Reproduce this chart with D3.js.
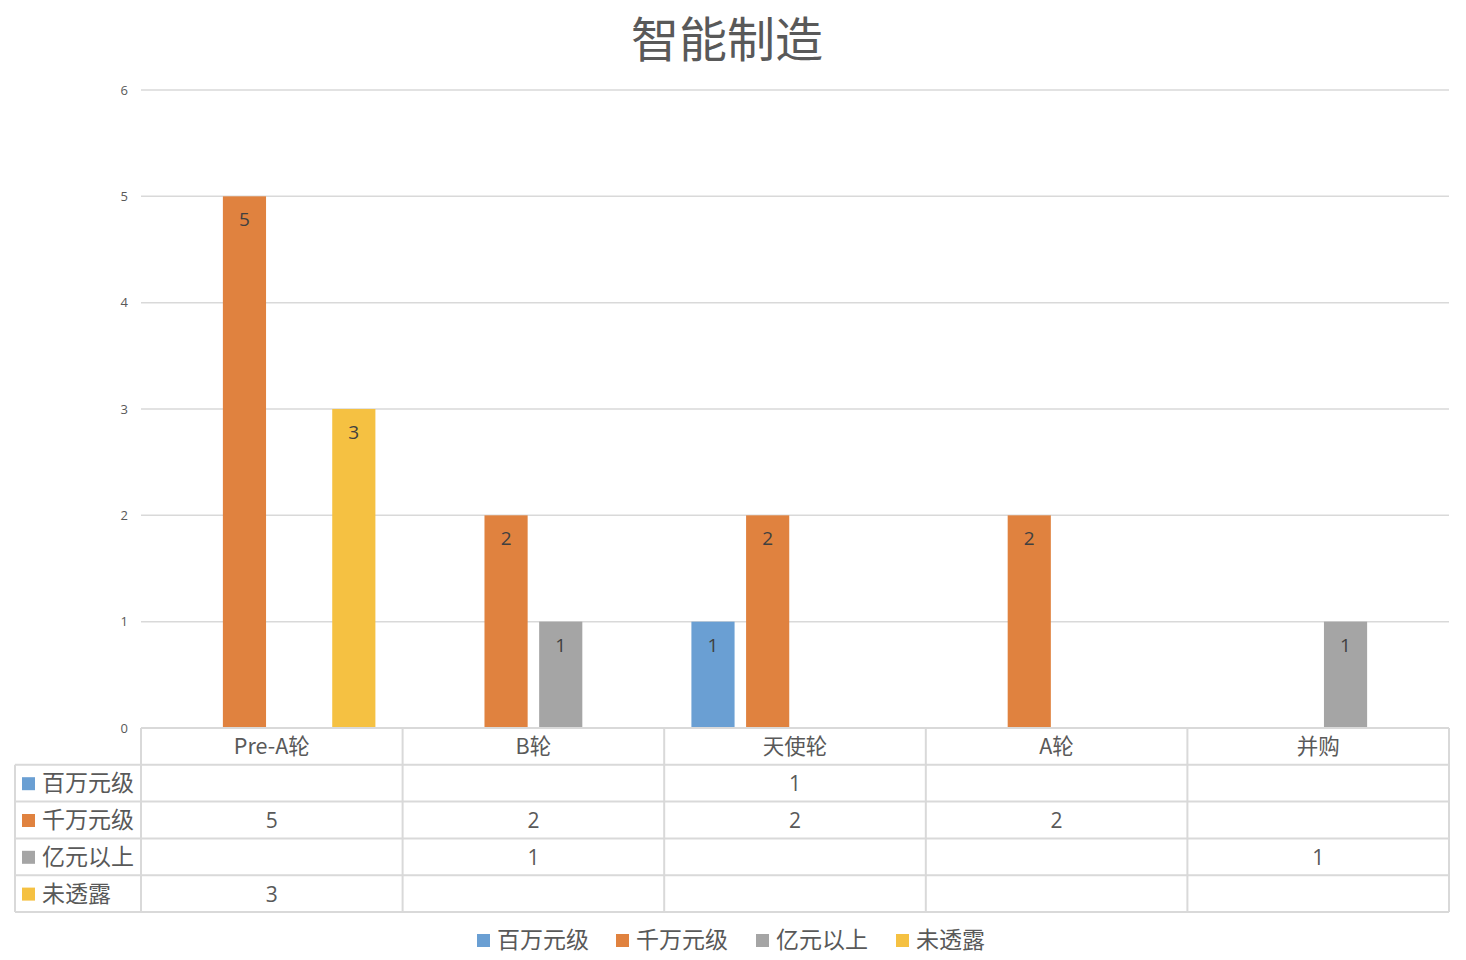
<!DOCTYPE html>
<html>
<head>
<meta charset="utf-8">
<script src="https://cdn.jsdelivr.net/npm/d3@7"></script>
<style>
  body { margin: 0; background: #fff; }
  svg text { font-family: "Noto Sans CJK SC", "Open Sans", sans-serif; fill: #595959; }
</style>
</head>
<body>
<div id="chart"></div>
<script>
// data
var categories = ["Pre-A轮", "B轮", "天使轮", "A轮", "并购"];
var seriesNames = ["百万元级", "千万元级", "亿元以上", "未透露"];
var seriesColors = ["#6A9FD3", "#E0823F", "#A5A5A5", "#F5C142"];
// null = no value in that cell
var baiwan  = [null, null, 1, null, null];
var qianwan = [5, 2, 2, 2, null];
var yiyuan  = [null, 1, null, null, 1];
var weitoulu = [3, null, null, null, null];
var yTicks = [0, 1, 2, 3, 4, 5, 6];

var seriesValues = [baiwan, qianwan, yiyuan, weitoulu];

var width = 1466, height = 960;
var plotLeft = 141, plotRight = 1449, plotTop = 90, plotBottom = 728;
var rowH = 36.8, labelColLeft = 15;

var svg = d3.select("#chart").append("svg")
  .attr("width", width)
  .attr("height", height);

// title
svg.append("text")
  .attr("x", 727).attr("y", 57)
  .attr("text-anchor", "middle")
  .style("font-size", "48px")
  .text("智能制造");

var x = d3.scaleBand().domain(categories).range([plotLeft, plotRight]);
var y = d3.scaleLinear().domain([0, 6]).range([plotBottom, plotTop]);

var barW = x.bandwidth() * 0.165;
var step = x.bandwidth() * 0.209;
var xs = d3.scaleLinear().domain([0, seriesNames.length - 1])
  .range([-1.5 * step, 1.5 * step]);

// gridlines
svg.append("g").selectAll("line.grid")
  .data(yTicks.filter(d => d > 0))
  .enter().append("line")
  .attr("x1", plotLeft).attr("x2", plotRight)
  .attr("y1", d => y(d)).attr("y2", d => y(d))
  .attr("stroke", "#d9d9d9").attr("stroke-width", 1.5);

// y axis labels
var yAxis = d3.axisLeft(y).tickValues(yTicks).tickFormat(d3.format("d"))
  .tickSize(0).tickPadding(13);
var ya = svg.append("g").attr("transform", "translate(" + plotLeft + ",0)").call(yAxis);
ya.select(".domain").remove();
ya.selectAll("text").style("font-size", "13px").style("fill", "#595959")
  .style("font-family", "'Open Sans', sans-serif");

// bars
var barData = [];
seriesValues.forEach((vals, si) => {
  vals.forEach((v, ci) => {
    if (v != null) barData.push({ s: si, c: categories[ci], v: v });
  });
});

var bars = svg.append("g").selectAll("g.bar").data(barData).enter().append("g");
bars.append("rect")
  .attr("x", d => x(d.c) + x.bandwidth() / 2 + xs(d.s) - barW / 2)
  .attr("width", barW)
  .attr("y", d => y(d.v))
  .attr("height", d => y(0) - y(d.v))
  .attr("fill", d => seriesColors[d.s]);
bars.append("text")
  .attr("x", d => x(d.c) + x.bandwidth() / 2 + xs(d.s))
  .attr("y", d => y(d.v) + 30)
  .attr("text-anchor", "middle")
  .style("font-size", "19px")
  .style("fill", "#404040")
  .style("font-family", "'Open Sans', sans-serif")
  .text(d => d.v);

// data table
var tbl = svg.append("g");
var lineColor = "#d9d9d9";
var tableBottom = plotBottom + rowH * (seriesNames.length + 1);

// horizontal lines
d3.range(seriesNames.length + 2).forEach(i => {
  var yy = plotBottom + i * rowH;
  tbl.append("line")
    .attr("x1", i === 0 ? plotLeft : labelColLeft).attr("x2", plotRight)
    .attr("y1", yy).attr("y2", yy)
    .attr("stroke", lineColor).attr("stroke-width", 2);
});
// vertical lines
var vx = categories.map(c => x(c)).concat([plotRight]);
vx.forEach(xx => {
  tbl.append("line")
    .attr("x1", xx).attr("x2", xx)
    .attr("y1", plotBottom).attr("y2", tableBottom)
    .attr("stroke", lineColor).attr("stroke-width", 2);
});
tbl.append("line")
  .attr("x1", labelColLeft).attr("x2", labelColLeft)
  .attr("y1", plotBottom + rowH).attr("y2", tableBottom)
  .attr("stroke", lineColor).attr("stroke-width", 2);

// header row
tbl.selectAll("text.cat").data(categories).enter().append("text")
  .attr("x", d => x(d) + x.bandwidth() / 2)
  .attr("y", plotBottom + rowH / 2 + 8)
  .attr("text-anchor", "middle")
  .style("font-size", "21.5px")
  .text(d => d);

// series rows
seriesNames.forEach((name, si) => {
  var ry = plotBottom + rowH * (si + 1);
  tbl.append("rect")
    .attr("x", 22).attr("y", ry + rowH / 2 - 6)
    .attr("width", 13).attr("height", 13)
    .attr("fill", seriesColors[si]);
  tbl.append("text")
    .attr("x", 42).attr("y", ry + rowH / 2 + 8)
    .style("font-size", "23px")
    .text(name);
  seriesValues[si].forEach((v, ci) => {
    if (v == null) return;
    tbl.append("text")
      .attr("x", x(categories[ci]) + x.bandwidth() / 2)
      .attr("y", ry + rowH / 2 + 8)
      .attr("text-anchor", "middle")
      .style("font-size", "21px")
      .style("font-family", "'Open Sans', sans-serif")
      .text(v);
  });
});

// legend
var legendX = [477, 616, 756, 896];
var lg = svg.append("g").selectAll("g.leg").data(seriesNames).enter().append("g")
  .attr("transform", (d, i) => "translate(" + legendX[i] + ",940)");
lg.append("rect")
  .attr("x", 0).attr("y", -6).attr("width", 13).attr("height", 13)
  .attr("fill", (d, i) => seriesColors[i]);
lg.append("text")
  .attr("x", 20).attr("y", 8)
  .style("font-size", "23px")
  .text(d => d);
</script>
</body>
</html>
